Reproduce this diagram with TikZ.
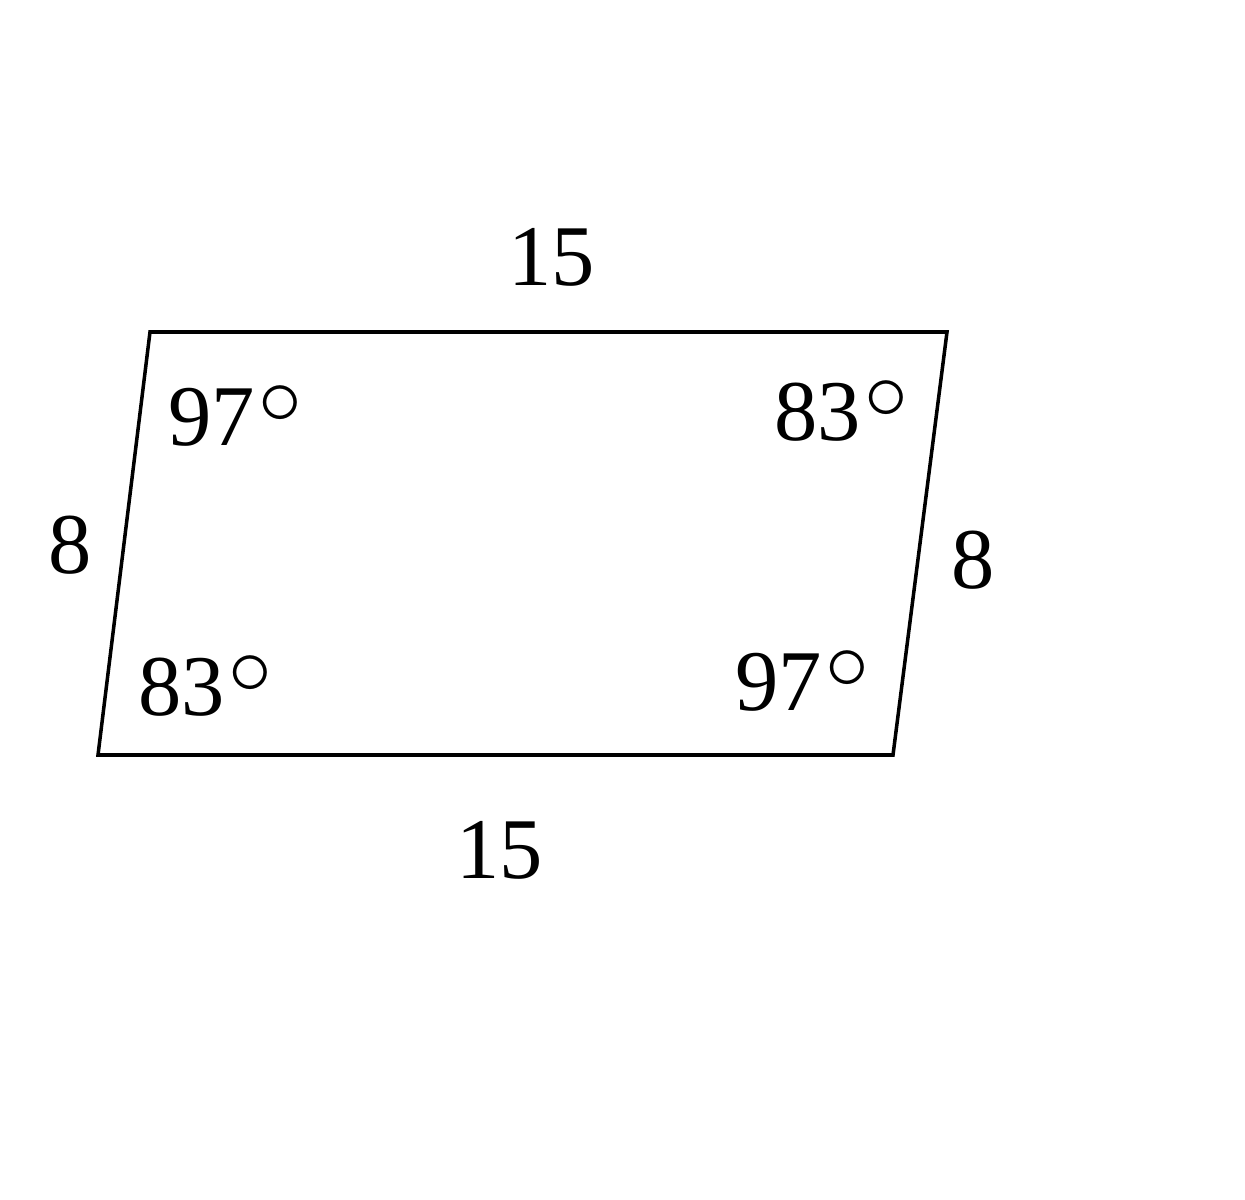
\documentclass[tikz,border=0pt]{standalone}
\usepackage{fontspec}
\setmainfont{Liberation Serif}
\usetikzlibrary{calc,positioning}

\newcommand{\dg}{\kern1pt\raisebox{0.24em}{$\circ$}}

\begin{document}
\begin{tikzpicture}[
    x=0.01cm, y=-0.01cm,
    font=\fontsize{24.6}{30}\selectfont,
    side/.style={line width=1pt, line join=miter},
    lbl/.style={inner sep=0pt, anchor=base west}
]
\useasboundingbox (0,0) rectangle (1245,1200);

% corners of the parallelogram
\coordinate (tl) at (150,332);
\coordinate (tr) at (947,332);
\coordinate (br) at (893,755);
\coordinate (bl) at (98,755);

\draw[side] (tl) -- (tr) -- (br) -- (bl) -- cycle;

% side lengths
\node[lbl] (top)   at (508,285) {15};
\node[lbl] (bot)   at (456,878) {15};
\node[lbl] (left)  at (48,573)  {8};
\node[lbl] (right) at (951,588) {8};

% angles
\node[lbl] (atl) at (168,445) {97\dg};
\node[lbl] (atr) at (774,440) {83\dg};
\node[lbl] (abl) at (138,715) {83\dg};
\node[lbl] (abr) at (735,710) {97\dg};
\end{tikzpicture}
\end{document}
